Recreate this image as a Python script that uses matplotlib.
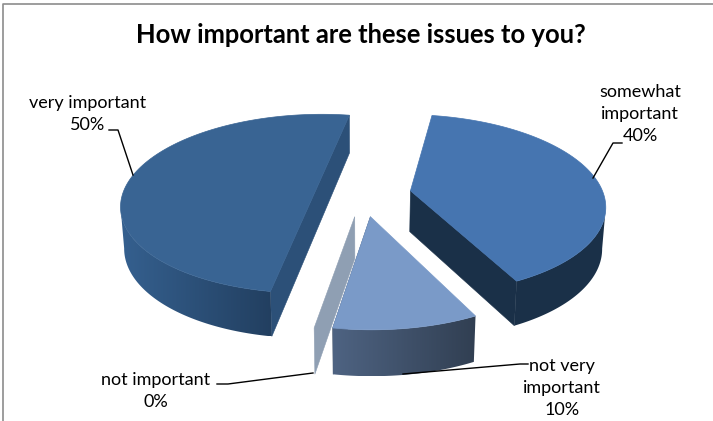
import matplotlib
matplotlib.use('Agg')
import matplotlib.pyplot as plt
from matplotlib.colors import to_rgb
from matplotlib.patches import Polygon
import numpy as np

title = 'How important are these issues to you?'
categories = ['somewhat\nimportant', 'not very\nimportant', 'not important', 'very important']
values = [40, 10, 0, 50]

# slice colours: top face, cut face, wall colour at both ends of the arc
top_colors = ['#4675b0', '#7a9ac8', '#8f9fb3', '#396493']
cut_colors = ['#1a3048', '#3d4f68', '#8f9fb3', '#2c5078']
wall_colors = [('#1a3048', '#1a3048'), ('#4e6382', '#313f52'),
               ('#8f9fb3', '#8f9fb3'), ('#35608f', '#223f60')]

# projection of the tilted pie
xc, yc = 363, 194
rx, ry = 193, 88.5
persp = 0.15
explode = 0.25
start = 9.5
depth = 41
shrink = 0.985

fig = plt.figure(figsize=(7.13, 4.21), dpi=100)
ax = fig.add_axes([0, 0, 1, 1])
ax.axis('off')


# disc coords to pixels, z=1 is the underside of the pie
def project(X, Y, z=0):
    w = 1 + persp * Y
    x = rx * X / w
    y = -ry * Y / w
    if z:
        x = x * shrink
        y = y + z * depth / w ** 0.6
    return xc + x, yc + y


def ring(X, Y):
    # outline between the top edge and the same edge on the underside
    tx, ty = project(X, Y)
    bx, by = project(X, Y, 1)
    return np.column_stack([np.r_[tx, bx[::-1]], np.r_[ty, by[::-1]]])


def draw_wall(a0, a1, off, colors, layer):
    # the rim is visible between its right and left extremes on screen
    scan = np.arange(0, 360, 0.5)
    sx = project(off[0] + np.sin(np.radians(scan)), off[1] + np.cos(np.radians(scan)))[0]
    low, high = max(a0, scan[np.argmax(sx)]), min(a1, scan[np.argmin(sx)])

    ang = np.radians(np.linspace(low, high, 120))
    pts = ring(off[0] + np.sin(ang), off[1] + np.cos(ang))
    outline = Polygon(pts, fc='none', ec='none', transform=ax.transData)
    ax.add_patch(outline)

    # shade runs left to right across the wall
    c0, c1 = np.array(to_rgb(colors[0])), np.array(to_rgb(colors[1]))
    t = np.linspace(0, 1, 256)[None, :, None]
    shade = c0[None, None, :] + (c1 - c0)[None, None, :] * t
    im = ax.imshow(shade, extent=[pts[:, 0].min(), pts[:, 0].max(), pts[:, 1].max(), pts[:, 1].min()],
                   aspect='auto', interpolation='nearest', zorder=layer)
    im.set_clip_path(outline)


def draw_cut(a0, a1, off, color, layer):
    # flat face between two rim points, a0 or a1 may be None for the slice tip
    X = [off[0] + np.sin(np.radians(a)) if a is not None else off[0] for a in (a0, a1)]
    Y = [off[1] + np.cos(np.radians(a)) if a is not None else off[1] for a in (a0, a1)]
    pts = ring(np.array(X), np.array(Y))
    ax.add_patch(Polygon(pts, fc=color, ec=color, lw=0.4, zorder=layer))


# work out the angle range of every slice from its share
spans = np.array(values) / sum(values) * 360
edges = start + np.r_[0, np.cumsum(spans)]

# back to front: very important, somewhat important, not important, not very important
for layer, i in enumerate([3, 0, 2, 1]):
    a0, a1 = edges[i], edges[i + 1]
    mid = np.radians((a0 + a1) / 2)
    off = (explode * np.sin(mid), explode * np.cos(mid))
    z = layer + 1

    if spans[i] == 0:
        draw_cut(None, a0, off, cut_colors[i], z)
        continue

    if i == 3:
        # half disc: the flat face is the whole diameter
        draw_cut(a0, a1, off, cut_colors[i], z)
    else:
        draw_cut(None, a1, off, cut_colors[i], z)
    draw_wall(a0, a1, off, wall_colors[i], z)

    ang = np.radians(np.linspace(a0, a1, 120))
    ex, ey = project(off[0] + np.sin(ang), off[1] + np.cos(ang))
    ox, oy = project(off[0], off[1])
    if i == 3:
        pts = np.column_stack([ex, ey])
    else:
        pts = np.column_stack([np.r_[ox, ex], np.r_[oy, ey]])
    ax.add_patch(Polygon(pts, fc=top_colors[i], ec=top_colors[i], lw=0.5, zorder=z + 0.5))

ax.set_xlim(0, 713)
ax.set_ylim(421, 0)

# chart frame, only the top and left edges are drawn
ax.plot([2.5, 2.5, 713], [421, 4, 4], color='#8c8c8c', lw=1.2, zorder=6)

ax.text(361, 35, title, ha='center', va='center', fontsize=18.4, fontweight='bold',
        family='Lato', color='black', zorder=7)

label_font = dict(ha='center', va='center', fontsize=13, family='Lato',
                  color='black', linespacing=1.48, zorder=7)
ax.text(88, 114, categories[3] + '\n' + str(values[3]) + '%', **label_font)
ax.text(640, 114, categories[0] + '\n' + str(values[0]) + '%', **label_font)
ax.text(156, 391, categories[2] + '\n' + str(values[2]) + '%', **label_font)
ax.text(562, 388, categories[1] + '\n' + str(values[1]) + '%', **label_font)

# leader lines
line = dict(color='black', lw=1, zorder=6)
ax.plot([109, 118, 133], [130, 130, 175], **line)
ax.plot([622, 613, 593], [143, 143, 178], **line)
ax.plot([217, 228, 313], [384, 384, 373], **line)
ax.plot([403, 520, 528], [374, 364, 364], **line)

fig.savefig('out.png', dpi=100)
